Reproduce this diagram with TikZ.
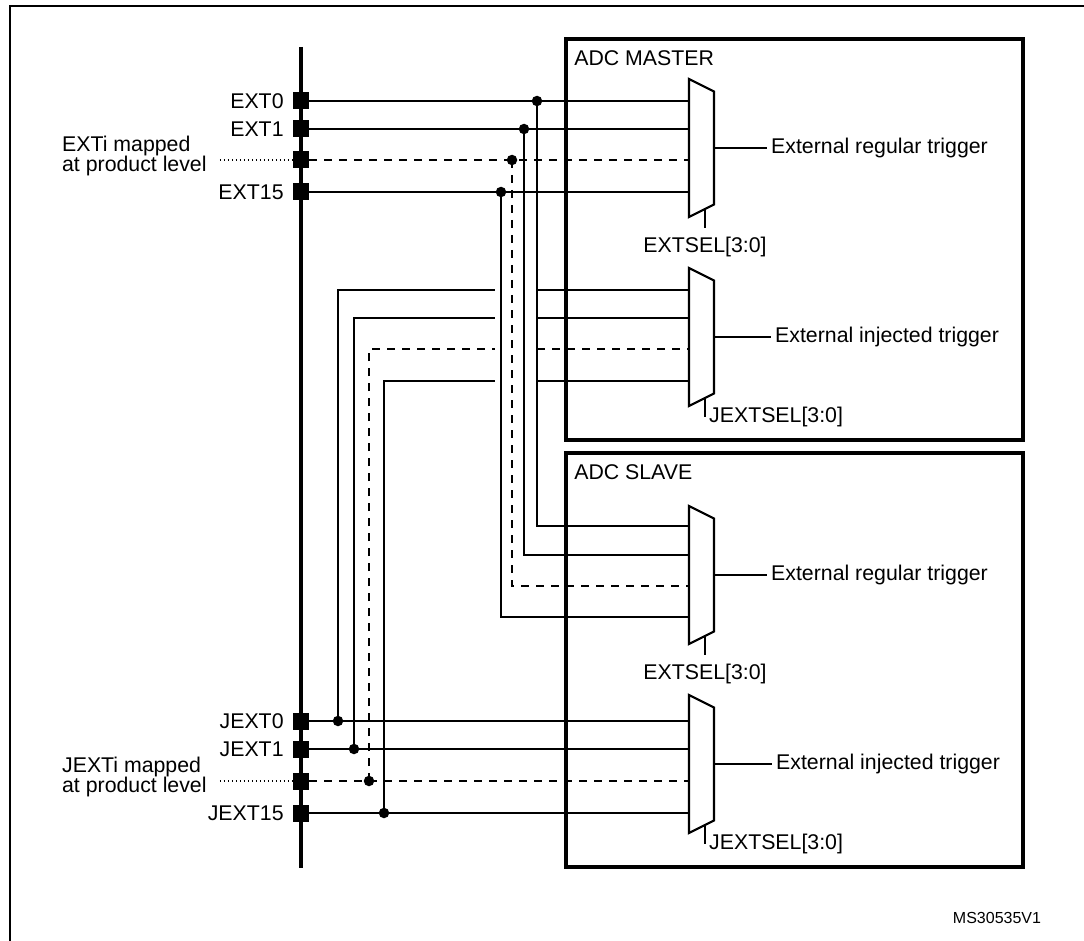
\documentclass[tikz,border=0pt]{standalone}
\usepackage{fontspec}
\setmainfont{Liberation Sans}
\usetikzlibrary{positioning,calc}

\begin{document}
\begin{tikzpicture}[x=1pt, y=-1pt,
        font=\fontsize{21.3}{20}\selectfont,
        wire/.style={line width=2.2pt},
        dwire/.style={line width=2.2pt, dash pattern=on 8pt off 7pt},
        mapped/.style={line width=1.5pt, dash pattern=on 1.5pt off 2.5pt},
        pin/.style={rectangle, fill=black, minimum width=16pt, minimum height=17pt, inner sep=0pt},
        pinlabel/.style={inner sep=0pt},
        dot/.style={circle, fill=black, minimum size=10.5pt, inner sep=0pt},
        adc/.style={rectangle, draw, line width=3.8pt},
        mux/.style={line width=2.2pt, line join=miter},
        title/.style={inner sep=0pt},
        trig/.style={anchor=west, inner xsep=4pt, inner ysep=0pt}]

    \useasboundingbox (0,0) rectangle (1084,941);

    % frame and trigger bus
    \draw[line width=2.5pt] (10,941) -- (10,6) -- (1084,6);
    \draw[line width=4pt] (301,47) -- (301,868);

    % ADC blocks
    \node[adc, minimum width=457pt, minimum height=401pt] (master) at (794.5,239.5) {};
    \node[title, below right=13pt and 10pt of master.north west] {ADC MASTER};
    \node[adc, minimum width=457pt, minimum height=414pt] (slave) at (794.5,660) {};
    \node[title, below right=13pt and 10pt of slave.north west] {ADC SLAVE};

    % multiplexers
    \foreach \m/\c in {mreg/148, minj/337, sreg/575, sinj/764} {
        \draw[mux] (689,\c-69) -- (714,\c-56.5) -- (714,\c+56.5) -- (689,\c+69) -- cycle;
        \coordinate (\m-in) at (689,\c);
        \coordinate (\m-out) at (714,\c);
        \coordinate (\m-sel) at (705,\c+61);
    }

    % regular trigger pins
    \node[pin] (ext0) at (301,101) {};
    \node[pin] (ext1) at (301,129) {};
    \node[pin] (exti) at (301,160) {};
    \node[pin] (ext15) at (301,192) {};
    \node[pinlabel, left=9pt of ext0] {EXT0};
    \node[pinlabel, left=9pt of ext1] {EXT1};
    \node[pinlabel, left=9pt of ext15] {EXT15};
    \node[pinlabel, align=left, left=86pt of exti, yshift=4pt] (exti-lbl) {EXTi mapped\\at product level};
    \draw[mapped, shorten <=13pt] (exti-lbl.east |- exti) -- (exti.west);

    % injected trigger pins
    \node[pin] (jext0) at (301,721) {};
    \node[pin] (jext1) at (301,749) {};
    \node[pin] (jexti) at (301,781) {};
    \node[pin] (jext15) at (301,813) {};
    \node[pinlabel, left=9pt of jext0] {JEXT0};
    \node[pinlabel, left=9pt of jext1] {JEXT1};
    \node[pinlabel, left=9pt of jext15] {JEXT15};
    \node[pinlabel, align=left, left=86pt of jexti, yshift=4pt] (jexti-lbl) {JEXTi mapped\\at product level};
    \draw[mapped, shorten <=13pt] (jexti-lbl.east |- jexti) -- (jexti.west);

    % mux inputs fed from the verticals
    \coordinate (sreg-in0) at (689,526);
    \coordinate (sreg-in1) at (689,555);
    \coordinate (sreg-ini) at (689,586);
    \coordinate (sreg-in15) at (689,617);
    \coordinate (minj-in0) at (689,290);
    \coordinate (minj-in1) at (689,318);
    \coordinate (minj-ini) at (689,349);
    \coordinate (minj-in15) at (689,381);
    \coordinate (hopl) at (495,0);
    \coordinate (hopr) at (537,0);

    % EXT lines to master and slave
    \draw[wire] (ext0) -- (ext0 -| mreg-in);
    \draw[wire] (ext1) -- (ext1 -| mreg-in);
    \draw[dwire] (exti) -- (exti -| mreg-in);
    \draw[wire] (ext15) -- (ext15 -| mreg-in);
    \node[dot] (dext0) at (537,101) {};
    \node[dot] (dext1) at (524,129) {};
    \node[dot] (dexti) at (512,160) {};
    \node[dot] (dext15) at (501,192) {};
    \draw[wire] (dext0.center) |- (sreg-in0);
    \draw[wire] (dext1.center) |- (sreg-in1);
    \draw[dwire] (dexti.center) |- (sreg-ini);
    \draw[wire] (dext15.center) |- (sreg-in15);

    % JEXT lines to slave and master
    \draw[wire] (jext0) -- (jext0 -| sinj-in);
    \draw[wire] (jext1) -- (jext1 -| sinj-in);
    \draw[dwire] (jexti) -- (jexti -| sinj-in);
    \draw[wire] (jext15) -- (jext15 -| sinj-in);
    \node[dot] (djext0) at (338,721) {};
    \node[dot] (djext1) at (354,749) {};
    \node[dot] (djexti) at (369,781) {};
    \node[dot] (djext15) at (384,813) {};
    \draw[wire] (djext0.center) |- (minj-in0 -| hopl);
    \draw[wire] (minj-in0 -| hopr) -- (minj-in0);
    \draw[wire] (djext1.center) |- (minj-in1 -| hopl);
    \draw[wire] (minj-in1 -| hopr) -- (minj-in1);
    \draw[dwire] (djexti.center) |- (minj-ini -| hopl);
    \draw[dwire] (minj-ini -| hopr) -- (minj-ini);
    \draw[wire] (djext15.center) |- (minj-in15 -| hopl);
    \draw[wire] (minj-in15 -| hopr) -- (minj-in15);

    % outputs
    \node[trig] (mreg-trig) at (767,148) {External regular trigger};
    \node[trig] (minj-trig) at (771,337) {External injected trigger};
    \node[trig] (sreg-trig) at (767,575) {External regular trigger};
    \node[trig] (sinj-trig) at (772,764) {External injected trigger};
    \draw[wire] (mreg-out) -- (mreg-trig);
    \draw[wire] (minj-out) -- (minj-trig);
    \draw[wire] (sreg-out) -- (sreg-trig);
    \draw[wire] (sinj-out) -- (sinj-trig);

    % select inputs
    \draw[mux] (mreg-sel) -- ++(0,19) coordinate (mreg-selend);
    \draw[mux] (minj-sel) -- ++(0,19) coordinate (minj-selend);
    \draw[mux] (sreg-sel) -- ++(0,19) coordinate (sreg-selend);
    \draw[mux] (sinj-sel) -- ++(0,19) coordinate (sinj-selend);
    \node[title, below=9pt of mreg-selend] {EXTSEL[3:0]};
    \node[title, right=4pt of minj-selend] {JEXTSEL[3:0]};
    \node[title, below=9pt of sreg-selend] {EXTSEL[3:0]};
    \node[title, right=4pt of sinj-selend] {JEXTSEL[3:0]};

    \node[font=\fontsize{16}{18}\selectfont] (ref) at (997,918) {MS30535V1};
\end{tikzpicture}
\end{document}
